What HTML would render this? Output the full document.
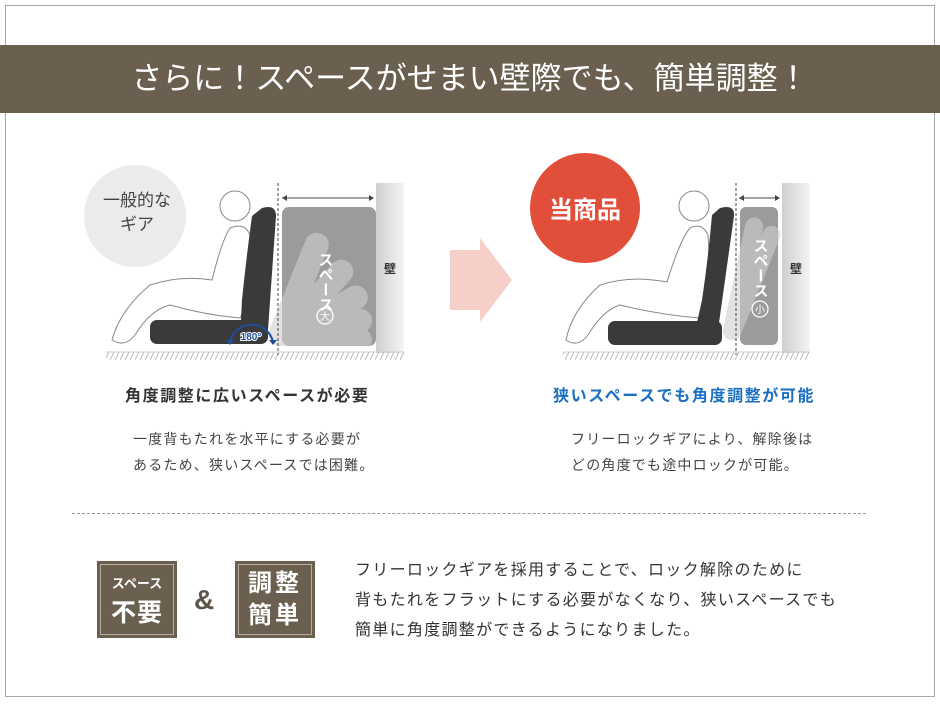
<!DOCTYPE html>
<html><head><meta charset="utf-8"><style>
body{margin:0;width:940px;height:705px;background:#fff;position:relative;overflow:hidden;font-family:"Liberation Sans","Noto Sans CJK JP",sans-serif;}
.a{position:absolute;white-space:nowrap}
</style></head><body>
<div class="a" style="left:5px;top:5px;width:928px;height:690px;border:1px solid #a8a8a8"></div>
<div class="a" style="left:0;top:45px;width:940px;height:68px;background:#6b5f50"></div>
<div class="a" style="left:0;top:55px;width:940px;text-align:center;color:#fff;font-size:31px;line-height:48px;letter-spacing:0px">さらに！スペースがせまい壁際でも、簡単調整！</div>

<svg class="a" style="left:0;top:120px" width="940" height="250" viewBox="0 120 940 250">
<defs>
<pattern id="h" width="5" height="8" patternUnits="userSpaceOnUse"><line x1="4" y1="0" x2="0" y2="8" stroke="#bbb" stroke-width="1"/></pattern>
<linearGradient id="w" x1="0" x2="1"><stop offset="0" stop-color="#cfcfcf"/><stop offset="1" stop-color="#f4f4f4"/></linearGradient>
<clipPath id="c1"><rect x="240" y="200" width="136" height="146"/></clipPath>
</defs>
<!-- LEFT -->
<circle cx="135" cy="216" r="51" fill="#ebebeb"/>
<text x="137" y="206" font-size="17" fill="#444" text-anchor="middle">一般的な</text>
<text x="137" y="230" font-size="17" fill="#444" text-anchor="middle">ギア</text>
<rect x="376" y="183" width="28" height="170" fill="url(#w)"/>
<text x="390" y="273" font-size="12" fill="#333" text-anchor="middle" font-weight="bold">壁</text>
<rect x="106" y="352" width="298" height="8" fill="url(#h)"/>
<line x1="106" y1="352" x2="404" y2="352" stroke="#ccc"/>
<rect x="282" y="207" width="94" height="139" rx="7" fill="#9b9b9b"/>
<g fill="#cfcfcf" opacity="0.6" clip-path="url(#c1)">
<rect x="265" y="225" width="24" height="120" rx="12" transform="rotate(22 277 343)"/>
<rect x="265" y="235" width="24" height="110" rx="12" transform="rotate(42 277 343)"/>
<rect x="265" y="240" width="24" height="105" rx="12" transform="rotate(60 277 343)"/>
<rect x="265" y="245" width="24" height="100" rx="12" transform="rotate(75 277 343)"/>
<rect x="265" y="248" width="24" height="97" rx="12" transform="rotate(88 277 343)"/>
</g>
<text x="325" y="252" font-size="15" fill="#fff" font-weight="bold" writing-mode="tb">スペース</text>
<circle cx="325" cy="316" r="8" fill="none" stroke="#fff" stroke-width="1.3"/>
<text x="325" y="320" font-size="10" fill="#fff" text-anchor="middle">大</text>
<line x1="278" y1="183" x2="278" y2="355" stroke="#444" stroke-dasharray="3,2"/>
<line x1="282" y1="198" x2="373" y2="198" stroke="#444"/>
<path d="M282 198l5-3v6zM374 198l-5-3v6z" fill="#444"/>
<!-- person left -->
<circle cx="235" cy="206" r="15" fill="#fff" stroke="#888"/>
<path d="M230 228 Q222 240 212 280 Q180 275 150 285 Q120 310 112 340 Q125 348 135 335 Q150 310 170 305 Q205 315 240 318 Q255 290 250 235 Q245 222 230 228Z" fill="#fff" stroke="#888"/>
<path d="M262 208 Q276 204 276 216 L268 330 Q262 342 240 338 L242 300 Q246 260 252 216Z" fill="#3a3a3a"/>
<rect x="150" y="320" width="118" height="24" rx="7" fill="#3a3a3a"/>
<path d="M230 342 A22 22 0 0 1 273 342" fill="none" stroke="#1f4f9a" stroke-width="2"/>
<path d="M226 340l4 5 4-5zM269 340l4 5 4-5z" fill="#1f4f9a"/>
<text x="251" y="340" font-size="10" fill="#1f4f9a" font-weight="bold" text-anchor="middle" stroke="#fff" stroke-width="2" paint-order="stroke">180°</text>
<!-- ARROW -->
<path d="M450 250 H480 V238 L512 280 L480 322 V310 H450Z" fill="#f6c7c0" opacity="0.85"/>
<!-- RIGHT -->
<circle cx="585" cy="208" r="55" fill="#e14f3b"/>
<text x="585" y="218" font-size="24" fill="#fff" font-weight="bold" text-anchor="middle">当商品</text>
<rect x="782" y="183" width="28" height="170" fill="url(#w)"/>
<text x="796" y="273" font-size="12" fill="#333" text-anchor="middle" font-weight="bold">壁</text>
<rect x="563" y="352" width="247" height="8" fill="url(#h)"/>
<line x1="563" y1="352" x2="810" y2="352" stroke="#ccc"/>
<rect x="740" y="207" width="38" height="138" rx="6" fill="#9b9b9b"/>
<g fill="#cfcfcf" opacity="0.6">
<rect x="722" y="215" width="18" height="125" rx="9" transform="rotate(12 731 335)"/>
<rect x="722" y="218" width="18" height="122" rx="9" transform="rotate(22 731 335)"/>
</g>
<text x="760" y="238" font-size="15" fill="#fff" font-weight="bold" writing-mode="tb">スペース</text>
<circle cx="760" cy="309" r="8" fill="none" stroke="#fff" stroke-width="1.3"/>
<text x="760" y="313" font-size="10" fill="#fff" text-anchor="middle">小</text>
<line x1="736" y1="183" x2="736" y2="355" stroke="#444" stroke-dasharray="3,2"/>
<line x1="739" y1="198" x2="779" y2="198" stroke="#444"/>
<path d="M739 198l5-3v6zM780 198l-5-3v6z" fill="#444"/>
<circle cx="694" cy="206" r="15" fill="#fff" stroke="#888"/>
<path d="M690 228 Q680 240 667 282 Q630 275 600 285 Q572 310 566 340 Q578 348 588 335 Q603 310 620 305 Q660 315 700 318 Q712 290 708 235 Q702 222 690 228Z" fill="#fff" stroke="#888"/>
<path d="M720 208 Q735 204 734 216 L718 330 Q710 340 694 336 L702 300 Q708 260 712 215Z" fill="#3a3a3a"/>
<rect x="608" y="321" width="114" height="24" rx="7" fill="#3a3a3a"/>
</svg>

<div class="a" style="left:125px;top:382px;font-size:16px;font-weight:bold;color:#333;letter-spacing:1.6px">角度調整に広いスペースが必要</div>
<div class="a" style="left:553px;top:382px;font-size:16px;font-weight:bold;color:#1a6fc0;letter-spacing:1.6px">狭いスペースでも角度調整が可能</div>
<div class="a" style="left:133px;top:426px;font-size:14px;line-height:26px;color:#444;letter-spacing:1.2px">一度背もたれを水平にする必要が<br>あるため、狭いスペースでは困難。</div>
<div class="a" style="left:571px;top:426px;font-size:14px;line-height:26px;color:#444;letter-spacing:1.2px">フリーロックギアにより、解除後は<br>どの角度でも途中ロックが可能。</div>
<div class="a" style="left:72px;top:513px;width:794px;border-top:1px dashed #999"></div>

<div class="a" style="left:97px;top:561px;width:80px;height:77px;background:#6b5f50"><div style="position:absolute;left:3px;top:3px;right:3px;bottom:3px;border:1px solid #b8ad9f"></div>
<div style="position:absolute;top:12px;width:80px;text-align:center;color:#fff;font-size:13px;font-weight:bold">スペース</div>
<div style="position:absolute;top:32px;width:80px;text-align:center;color:#fff;font-size:25px;font-weight:bold;letter-spacing:1px">不要</div></div>
<div class="a" style="left:194px;top:584px;font-size:28px;font-weight:bold;color:#5e5448">&amp;</div>
<div class="a" style="left:235px;top:561px;width:80px;height:77px;background:#6b5f50"><div style="position:absolute;left:3px;top:3px;right:3px;bottom:3px;border:1px solid #b8ad9f"></div>
<div style="position:absolute;top:7px;width:80px;text-align:center;color:#fff;font-size:24px;line-height:32px;font-weight:bold;letter-spacing:3px">調整<br>簡単</div></div>
<div class="a" style="left:355px;top:556px;font-size:16px;line-height:30px;color:#333;letter-spacing:1.3px">フリーロックギアを採用することで、ロック解除のために<br>背もたれをフラットにする必要がなくなり、狭いスペースでも<br>簡単に角度調整ができるようになりました。</div>
</body></html>
